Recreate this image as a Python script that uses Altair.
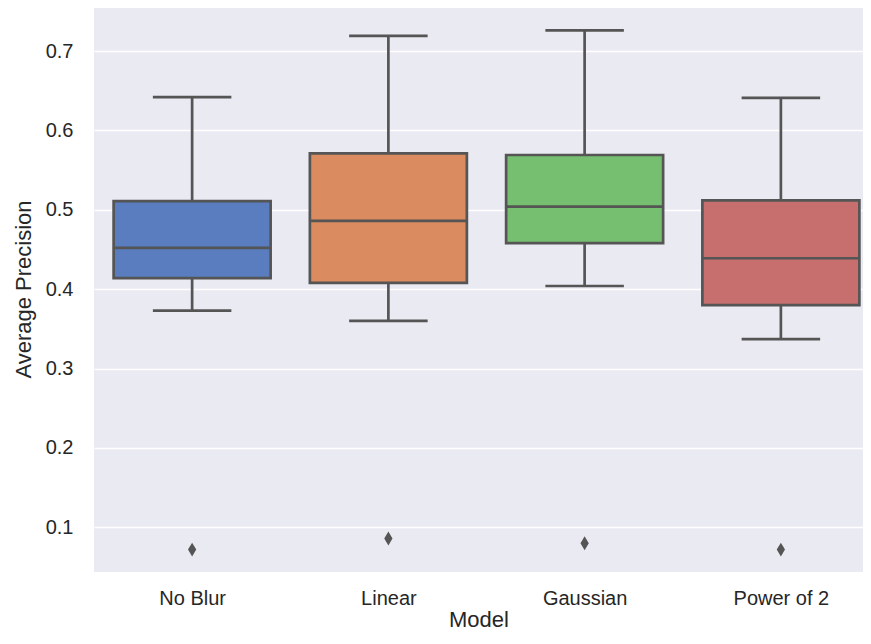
import json
import altair as alt
import pandas as pd

# ---- data ----
models = ["No Blur", "Linear", "Gaussian", "Power of 2"]
whisker_low = [0.373, 0.360, 0.404, 0.337]
q1 = [0.414, 0.408, 0.458, 0.380]
median = [0.452, 0.486, 0.504, 0.439]
q3 = [0.511, 0.571, 0.569, 0.512]
whisker_high = [0.642, 0.719, 0.726, 0.641]
outliers = [0.072, 0.086, 0.080, 0.072]
y_ticks = [0.1, 0.2, 0.3, 0.4, 0.5, 0.6, 0.7]

palette = ["#597DBF", "#DA8B5F", "#76BF71", "#C76E6E"]
LINE = "#555555"
TEXT = "#262626"
FONT = "Liberation Sans"

df = pd.DataFrame({
    "model": models,
    "idx": list(range(len(models))),
    "low": whisker_low,
    "q1": q1,
    "med": median,
    "q3": q3,
    "high": whisker_high,
    "out": outliers,
})

PLOT_W = 769
STEP = 196.25
xscale = alt.Scale(domain=[-0.5, -0.5 + PLOT_W / STEP], nice=False, zero=False)
yscale = alt.Scale(domain=[0.0438, 0.7567], nice=False, zero=False)

label_expr = json.dumps(models) + "[datum.value]"

x_axis = alt.Axis(
    values=[0, 1, 2, 3], labelExpr=label_expr, title="Model", grid=False,
    labelPadding=16, titlePadding=1,
)
y_axis = alt.Axis(values=y_ticks, format=".1f", title="Average Precision",
                  labelPadding=21, titlePadding=10)

base = alt.Chart(df).transform_calculate(
    left="datum.idx - 0.4", right="datum.idx + 0.4",
    cl="datum.idx - 0.2", cr="datum.idx + 0.2",
)

whisker = base.mark_rule(color=LINE, strokeWidth=2.7).encode(
    x=alt.X("idx:Q", scale=xscale, axis=x_axis),
    y=alt.Y("low:Q", scale=yscale, axis=y_axis),
    y2="high:Q",
)
cap_low = base.mark_rule(color=LINE, strokeWidth=2.7).encode(
    x=alt.X("cl:Q", scale=xscale), x2="cr:Q", y=alt.Y("low:Q", scale=yscale)
)
cap_high = base.mark_rule(color=LINE, strokeWidth=2.7).encode(
    x=alt.X("cl:Q", scale=xscale), x2="cr:Q", y=alt.Y("high:Q", scale=yscale)
)
box = base.mark_rect(stroke=LINE, strokeWidth=2.7).encode(
    x=alt.X("left:Q", scale=xscale), x2="right:Q",
    y=alt.Y("q1:Q", scale=yscale), y2="q3:Q",
    fill=alt.Fill("model:N", scale=alt.Scale(domain=models, range=palette), legend=None),
)
med = base.mark_rule(color=LINE, strokeWidth=2.7).encode(
    x=alt.X("left:Q", scale=xscale), x2="right:Q", y=alt.Y("med:Q", scale=yscale)
)
fliers = base.mark_point(
    shape="M0,-1L0.6,0L0,1L-0.6,0Z", filled=True, color=LINE, size=190, opacity=1
).encode(
    x=alt.X("idx:Q", scale=xscale), y=alt.Y("out:Q", scale=yscale)
)

chart = alt.layer(whisker, cap_low, cap_high, box, med, fliers).properties(
    width=PLOT_W, height=566,
    autosize=alt.AutoSizeParams(type="none"),
    padding={"left": 86, "top": -2, "right": 0, "bottom": 64},
    background="white",
).configure_view(
    fill="#EAEAF2", stroke=None
).configure_axis(
    domain=False, ticks=False, tickSize=0,
    gridColor="white", gridWidth=1.6, gridOpacity=1,
    labelFont=FONT, titleFont=FONT, labelColor=TEXT, titleColor=TEXT,
    labelFontSize=20, titleFontSize=22, titleFontWeight="normal",
)

chart.save("out.html", embed_options={"renderer": "svg", "actions": False})
